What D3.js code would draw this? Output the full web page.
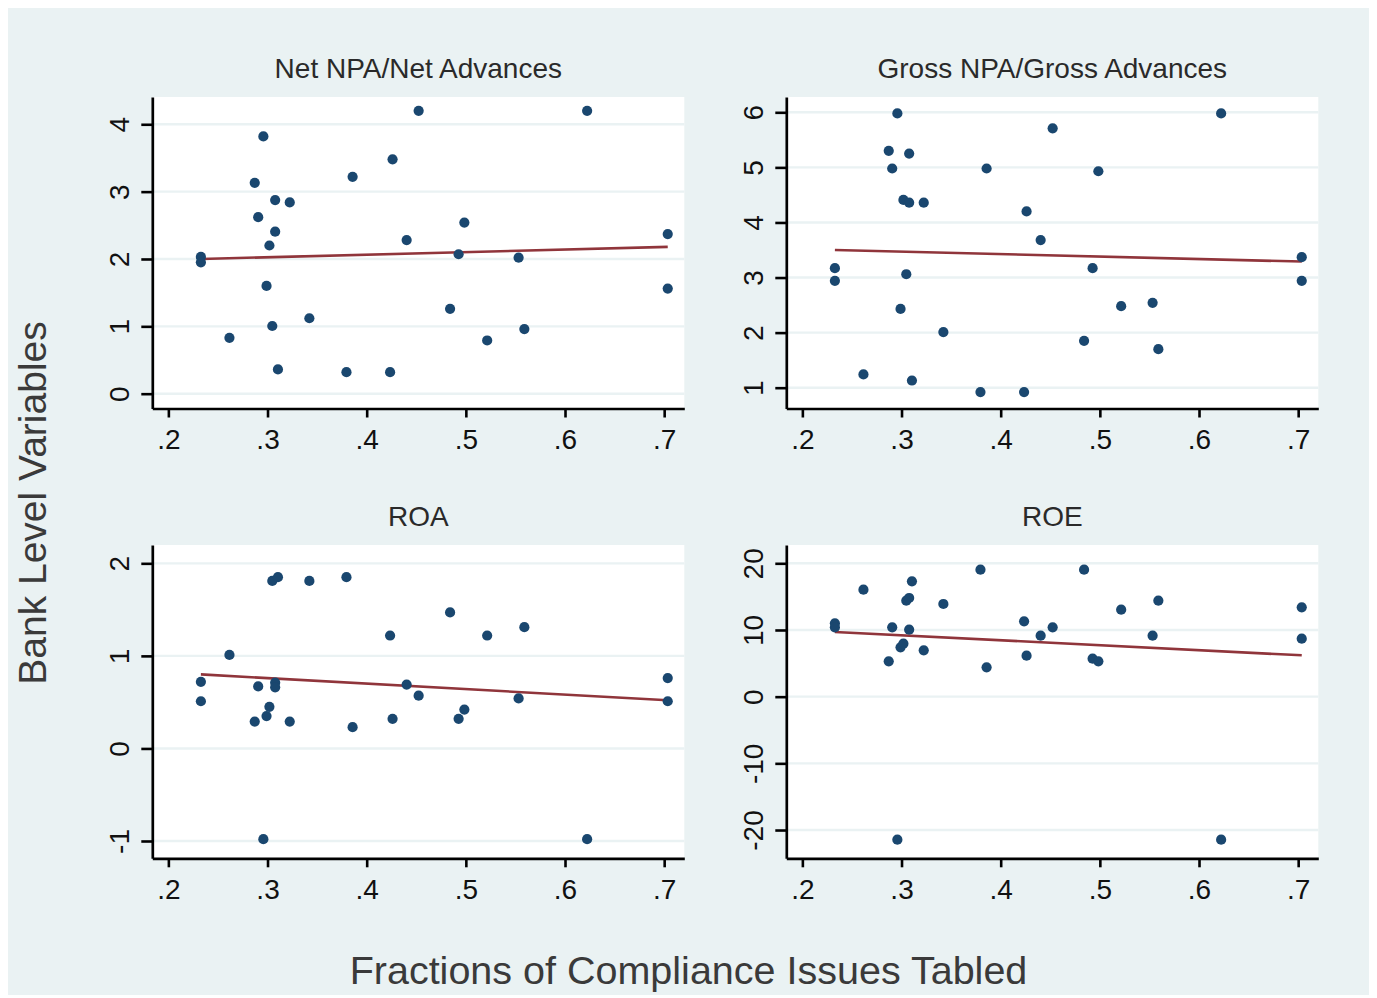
<!DOCTYPE html>
<html><head><meta charset="utf-8">
<script src="https://cdn.jsdelivr.net/npm/d3@7"></script>
<style>html,body{margin:0;padding:0;background:#fff;} svg{display:block;}</style>
</head><body>
<svg id="chart" width="1377" height="998"></svg>
<script>
// ---- data ----
const bankX = [0.2328,0.2328,0.2616,0.2871,0.2906,0.2958,0.2990,0.3019,0.3048,0.3077,0.3077,0.3105,0.3224,0.3422,0.3796,0.3858,0.4236,0.4261,0.4403,0.4524,0.4841,0.4927,0.4985,0.5215,0.5532,0.5590,0.6223,0.7036,0.7036];
const netNPA   = [2.03,1.95,0.83,3.13,2.62,3.82,1.60,2.20,1.005,2.875,2.405,0.36,2.84,1.12,0.32,3.22,0.32,3.48,2.28,4.20,1.26,2.07,2.54,0.79,2.02,0.96,4.20,2.37,1.56];
const grossNPA = [3.17,2.94,1.24,5.30,4.98,5.98,2.43,4.41,3.06,4.36,5.25,1.13,4.36,2.01,0.92,4.98,0.92,4.20,3.68,5.71,1.85,3.17,4.93,2.48,2.54,1.70,5.98,3.37,2.94];
const roa      = [0.72,0.51,1.01,0.29,0.67,-0.98,0.35,0.45,1.81,0.71,0.66,1.85,0.29,1.81,1.85,0.23,1.22,0.32,0.69,0.57,1.47,0.32,0.42,1.22,0.54,1.31,-0.98,0.76,0.51];
const roe      = [11.0,10.4,16.05,5.3,10.4,-21.45,7.4,7.95,14.4,14.8,10.05,17.3,6.95,13.9,19.05,4.4,11.3,6.15,9.15,10.4,19.05,5.7,5.3,13.05,9.15,14.4,-21.45,13.4,8.7];

const fitX     = [0.2328, 0.7036];
const fitNet   = [2.00, 2.18];
const fitGross = [3.50, 3.29];
const fitROA   = [0.80, 0.52];
const fitROE   = [9.7, 6.2];

const xTicks = [0.2,0.3,0.4,0.5,0.6,0.7];
const xTickLabels = [".2",".3",".4",".5",".6",".7"];
const netTicks = [0,1,2,3,4];
const grossTicks = [1,2,3,4,5,6];
const roaTicks = [-1,0,1,2];
const roeTicks = [-20,-10,0,10,20];

const panelTitles = ["Net NPA/Net Advances","Gross NPA/Gross Advances","ROA","ROE"];
const yTitle = "Bank Level Variables";
const xTitle = "Fractions of Compliance Issues Tabled";

// ---- layout ----
const BG = "#eaf2f3", MARK = "#1a476f", FIT = "#90353b";
const FONT = "'Liberation Sans', Arial, Helvetica, sans-serif";
const W = 532, H_TOP = 311.5, H_BOT = 313.3;
const xDomain = [0.1838, 0.7203];

const panels = [
  {left:152.3, top:97,  h:H_TOP, y:netNPA,   fit:fitNet,   ticks:netTicks,   dom:[-0.22, 4.405],  title:panelTitles[0]},
  {left:786.3, top:97,  h:H_TOP, y:grossNPA, fit:fitGross, ticks:grossTicks, dom:[0.622, 6.278],  title:panelTitles[1]},
  {left:152.3, top:545, h:H_BOT, y:roa,      fit:fitROA,   ticks:roaTicks,   dom:[-1.187, 2.198], title:panelTitles[2]},
  {left:786.3, top:545, h:H_BOT, y:roe,      fit:fitROE,   ticks:roeTicks,   dom:[-24.24, 22.745],title:panelTitles[3]}
];

const svg = d3.select("#chart");
svg.append("rect").attr("x",8).attr("y",8).attr("width",1361).attr("height",987).attr("fill",BG);

panels.forEach(p => {
  const g = svg.append("g").attr("transform",`translate(${p.left},${p.top})`);
  const x = d3.scaleLinear().domain(xDomain).range([0, W]);
  const y = d3.scaleLinear().domain(p.dom).range([p.h, 0]);

  g.append("rect").attr("width",W).attr("height",p.h).attr("fill","#fff");

  // gridlines
  g.selectAll("line.grid").data(p.ticks).join("line").attr("class","grid")
    .attr("x1",0).attr("x2",W).attr("y1",d=>y(d)).attr("y2",d=>y(d))
    .attr("stroke",BG).attr("stroke-width",2.4);

  // fitted line
  const line = d3.line().x(d=>x(d[0])).y(d=>y(d[1]));
  g.append("path").datum(fitX.map((v,i)=>[v,p.fit[i]]))
    .attr("d",line).attr("fill","none").attr("stroke",FIT).attr("stroke-width",2.6);

  // markers
  g.selectAll("circle").data(bankX.map((v,i)=>[v,p.y[i]])).join("circle")
    .attr("cx",d=>x(d[0])).attr("cy",d=>y(d[1])).attr("r",5.1).attr("fill",MARK);

  // x axis
  const xa = g.append("g").attr("transform",`translate(0,${p.h})`)
    .call(d3.axisBottom(x).tickValues(xTicks).tickFormat((d,i)=>xTickLabels[i]).tickSize(9).tickSizeOuter(0).tickPadding(12));
  // y axis
  const ya = g.append("g")
    .call(d3.axisLeft(y).tickValues(p.ticks).tickFormat(d=>String(d)).tickSize(11).tickSizeOuter(0));

  [xa, ya].forEach(a => {
    a.select(".domain").attr("stroke","#000").attr("stroke-width",2.7);
    a.selectAll(".tick line").attr("stroke","#000").attr("stroke-width",2.6);
    a.selectAll(".tick text").attr("fill","#111").style("font-family",FONT).style("font-size","28px");
  });
  ya.selectAll(".tick text").attr("x",0).attr("y",-23.5).attr("dy",0)
    .attr("transform","rotate(-90)").attr("text-anchor","middle");

  g.append("text").attr("x",W/2).attr("y",-19).attr("text-anchor","middle")
    .style("font-family",FONT).style("font-size","28px").attr("fill","#2a2a2a").text(p.title);
});

svg.append("text").attr("x",688.5).attr("y",984).attr("text-anchor","middle")
  .style("font-family",FONT).style("font-size","39.5px").attr("fill","#3a3a3a").text(xTitle);
svg.append("text").attr("transform","translate(46,503) rotate(-90)").attr("text-anchor","middle")
  .style("font-family",FONT).style("font-size","39px").attr("fill","#3a3a3a").text(yTitle);
</script>
</body></html>
